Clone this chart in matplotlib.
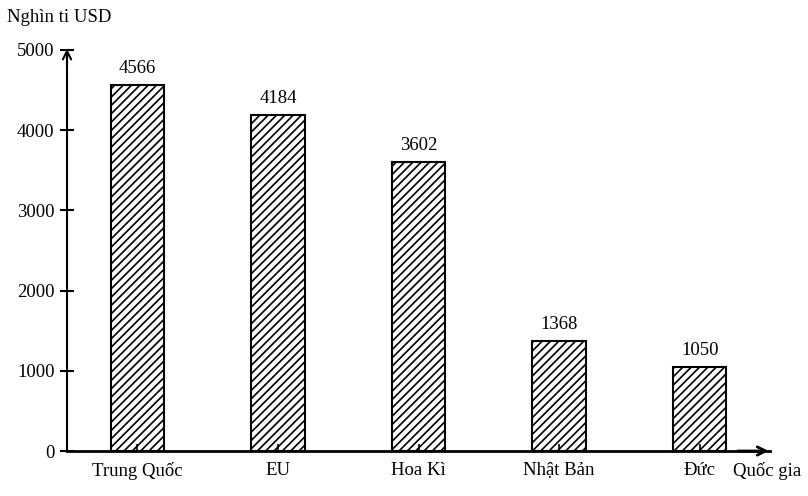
import matplotlib.pyplot as plt
import numpy as np

# data
countries = ["Trung Quốc", "EU", "Hoa Kì", "Nhật Bản", "Đức"]
values = [4566, 4184, 3602, 1368, 1050]
yticks = [0, 1000, 2000, 3000, 4000, 5000]

plt.rcParams['font.family'] = ['Liberation Serif', 'DejaVu Serif']
plt.rcParams['hatch.linewidth'] = 1.2

fig = plt.figure(figsize=(8.08, 4.96), dpi=100)
ax = fig.add_axes([67/808, 45/496, 703/808, 401/496])

x = np.arange(len(countries))
bars = ax.bar(x, values, width=0.38, color='white', edgecolor='black',
              linewidth=1.5, hatch='////')
for xi, v in zip(x, values):
    ax.text(xi, v + 100, str(v), ha='center', va='bottom', fontsize=13.5)

ax.set_xlim(-0.5, 4.5)
ax.set_ylim(0, 5000)
ax.set_yticks(yticks)
ax.set_yticklabels([str(t) for t in yticks], fontsize=13.5)
ax.set_xticks(x)
ax.set_xticklabels(countries, fontsize=13.5)

for s in ['top', 'right']:
    ax.spines[s].set_visible(False)
ax.spines['left'].set_linewidth(1.5)
ax.spines['bottom'].set_linewidth(2)
ax.tick_params(axis='y', direction='inout', length=10, width=1.5, pad=4)
ax.tick_params(axis='x', direction='in', length=5, width=1.2, pad=8)

# arrows at the ends of the axes
ax.annotate('', xy=(0, 1.01), xytext=(0, 0.95), xycoords='axes fraction',
            arrowprops=dict(arrowstyle='->', lw=1.5, color='black',
                            mutation_scale=15), annotation_clip=False)
ax.annotate('', xy=(1.002, 0), xytext=(0.95, 0), xycoords='axes fraction',
            arrowprops=dict(arrowstyle='->', lw=2, color='black',
                            mutation_scale=15), annotation_clip=False)

fig.text(7/808, 1 - 17/496, "Nghìn ti USD", fontsize=13.5, va='center', ha='left')
fig.text(733/808, 1 - 471/496, "Quốc gia", fontsize=13.5, va='center', ha='left')

fig.savefig("out.png", dpi=100)
